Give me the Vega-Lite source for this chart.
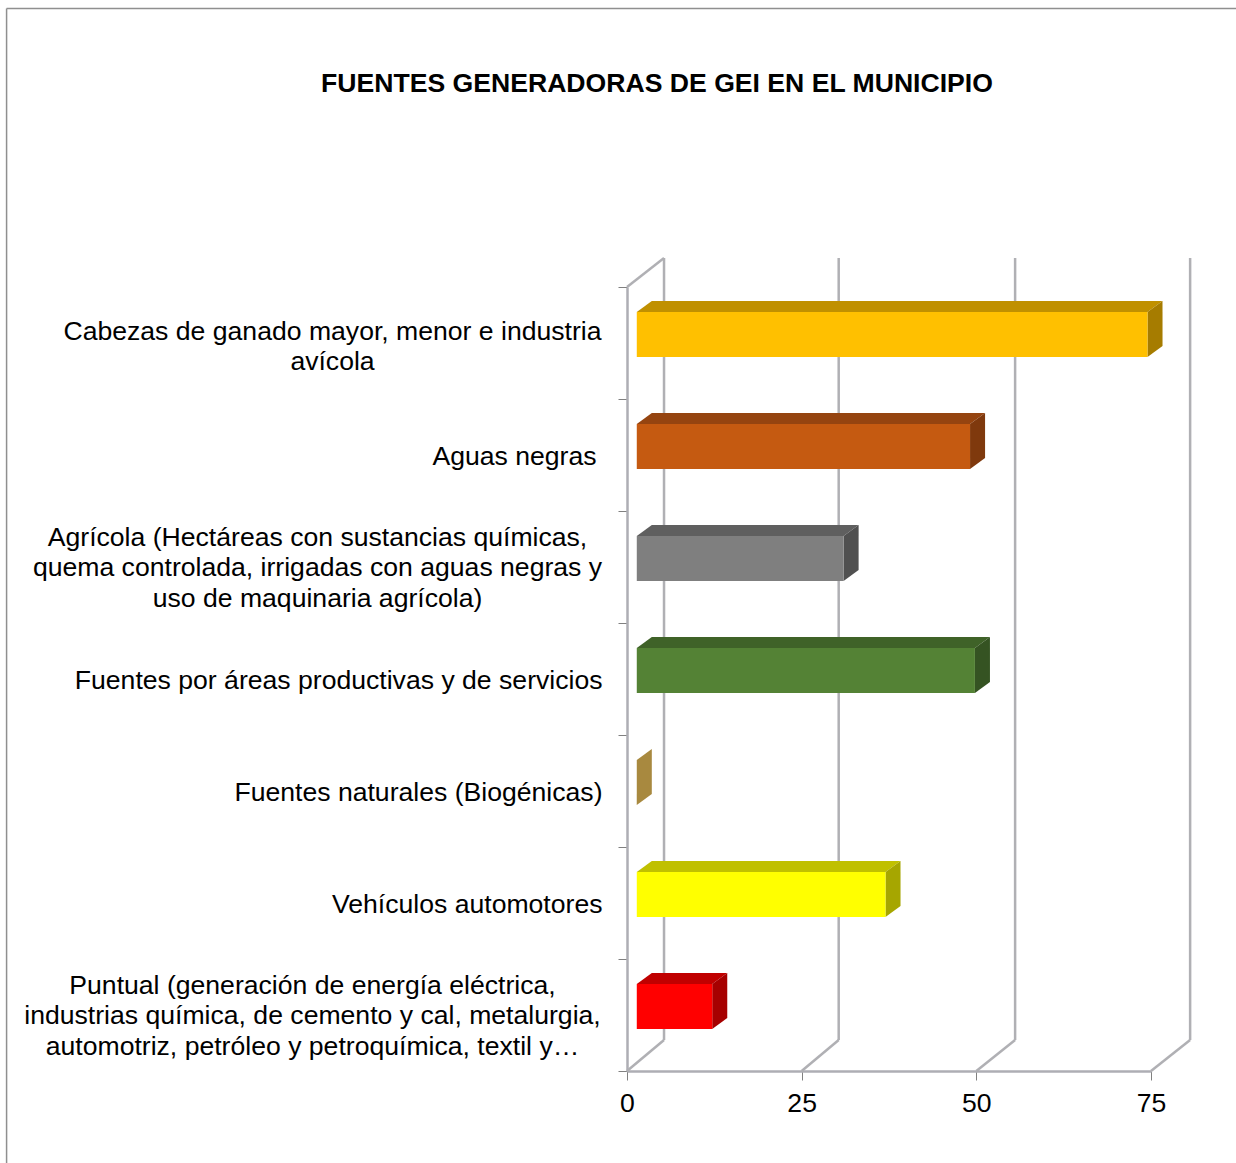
{
"$schema":"https://vega.github.io/schema/vega-lite/v6.json",
"autosize":{"type":"none"},
"padding":{"left":627,"top":287,"right":85,"bottom":92},
"width":524,"height":784,
"background":"white",
"title":{"text":"FUENTES GENERADORAS DE GEI EN EL MUNICIPIO","font":"Liberation Sans","fontSize":26.6,"fontWeight":"bold","color":"#000000","anchor":"middle","dx":-232,"offset":-90},
"config":{"view":{"stroke":null}},
"datasets":{
"bars":[
{"name":"Cabezas de ganado mayor, menor e industria|avícola","rank":6,"start":1.4,"value":74.5},
{"name":"Aguas negras","rank":5,"start":1.4,"value":49.1},
{"name":"Agrícola (Hectáreas con sustancias químicas,|quema controlada, irrigadas con aguas negras y|uso de maquinaria agrícola)","rank":4,"start":1.4,"value":31},
{"name":"Fuentes por áreas productivas y de servicios","rank":3,"start":1.4,"value":49.8},
{"name":"Fuentes naturales (Biogénicas)","rank":2,"start":1.4,"value":1.4},
{"name":"Vehículos automotores","rank":1,"start":1.4,"value":37},
{"name":"Puntual (generación de energía eléctrica,|industrias química, de cemento y cal, metalurgia,|automotriz, petróleo y petroquímica, textil y…","rank":0,"start":1.4,"value":12.2}
],
"ticks":[{"tick":0,"back":5.3},{"tick":25,"back":30.3},{"tick":50,"back":55.55},{"tick":75,"back":80.6}]
},
"resolve":{"scale":{"y":"independent","color":"independent"},"axis":{"y":"independent"}},
"layer":[
{"data":{"values":[{"x":-88.8,"x2":87.2,"y":9.487,"y2":9.487},{"x":-88.8,"x2":-88.8,"y":9.487,"y2":-0.83}]},
 "mark":{"type":"rule","color":"#8f8f8f","strokeWidth":1.5},
 "encoding":{"x":{"field":"x","type":"quantitative","scale":{"domain":[0,75],"nice":false},"title":null,
   "axis":{"values":[0,25,50,75],"labelFont":"Liberation Sans","labelFontSize":26.6,"labelColor":"#000000","labelPadding":10,"labelFlush":false,"labelOverlap":false,"tickSize":9,"tickColor":"#808080","tickWidth":1,"domainColor":"#aeaeb4","domainWidth":2.5,"grid":false}},
   "x2":{"field":"x2"},"y":{"field":"y","type":"quantitative","scale":{"domain":[0,7],"nice":false},"axis":null},"y2":{"field":"y2"}}},
{"data":{"name":"bars"},
 "mark":{"type":"bar","opacity":0},
 "encoding":{
  "y":{"field":"name","type":"nominal","sort":null,"scale":{"paddingInner":0,"paddingOuter":0},"title":null,
   "axis":{"labelExpr":"split(datum.label,'|')","labelFont":"Liberation Sans","labelFontSize":26.6,"labelColor":"#000000","labelLimit":0,"labelLineHeight":30.5,"labelOverlap":false,"labelBound":false,
    "labelAlign":{"condition":{"test":"indexof(datum.label,'|')>=0","value":"center"},"value":"right"},
    "labelPadding":{"condition":[{"test":"indexof(datum.label,'Cabezas')==0","value":286},{"test":"indexof(datum.label,'Agr')==0","value":301},{"test":"indexof(datum.label,'Puntual')==0","value":306},{"test":"indexof(datum.label,'Aguas')==0","value":22}],"value":16},
    "labelOffset":{"condition":[{"test":"indexof(datum.label,'Cabezas')==0","value":-12},{"test":"indexof(datum.label,'Agr')==0","value":-30},{"test":"indexof(datum.label,'Puntual')==0","value":-30}],"value":1},
    "tickBand":"extent","tickSize":9,"tickColor":"#808080","tickWidth":1,"domainColor":"#aeaeb4","domainWidth":2.5,"grid":false}},
  "x":{"field":"value","type":"quantitative"}
 }},
{"data":{"name":"ticks"},
 "transform":[{"calculate":"0","as":"y0"},{"calculate":"0.277","as":"y1"}],
 "mark":{"type":"rule","color":"#b0b0b4","strokeWidth":2.5},
 "encoding":{"x":{"field":"tick","type":"quantitative"},"x2":{"field":"back"},"y":{"field":"y0","type":"quantitative","scale":{"domain":[0,7],"nice":false},"axis":null},"y2":{"field":"y1"}}},
{"data":{"name":"ticks"},
 "transform":[{"calculate":"0.277","as":"y0"},{"calculate":"7.259","as":"y1"}],
 "mark":{"type":"rule","color":"#b0b0b4","strokeWidth":2.5},
 "encoding":{"x":{"field":"back","type":"quantitative"},"y":{"field":"y0","type":"quantitative","scale":{"domain":[0,7],"nice":false},"axis":null},"y2":{"field":"y1"}}},
{"data":{"values":[{"x":0,"x2":5.3,"y":7,"y2":7.259}]},
 "mark":{"type":"rule","color":"#b0b0b4","strokeWidth":2.5},
 "encoding":{"x":{"field":"x","type":"quantitative"},"x2":{"field":"x2"},"y":{"field":"y","type":"quantitative","scale":{"domain":[0,7],"nice":false},"axis":null},"y2":{"field":"y2"}}},
{"data":{"name":"bars"},
 "transform":[{"calculate":"[0,1]","as":"k"},{"flatten":["k"]},
  {"calculate":"datum.start+datum.k*2.15","as":"xa"},{"calculate":"datum.value+datum.k*2.15","as":"xb"},{"calculate":"datum.rank+0.777+datum.k*0.098","as":"yy"}],
 "mark":{"type":"area","orient":"horizontal","opacity":1},
 "encoding":{"y":{"field":"yy","type":"quantitative","scale":{"domain":[0,7],"nice":false},"axis":null},"x":{"field":"xa","type":"quantitative"},"x2":{"field":"xb"},"detail":{"field":"name"},
  "color":{"field":"rank","type":"nominal","legend":null,"scale":{"domain":[6,5,4,3,2,1,0],"range":["#c09000","#954410","#5f5f5f","#3f6228","#a8893f","#c0c000","#c00000"]}}}},
{"data":{"name":"bars"},
 "transform":[{"calculate":"[0,1]","as":"k"},{"flatten":["k"]},
  {"calculate":"datum.value+datum.k*2.15","as":"xx"},{"calculate":"datum.rank+0.777+datum.k*0.098","as":"ya"},{"calculate":"datum.rank+0.375+datum.k*0.098","as":"yb"}],
 "mark":{"type":"area","orient":"vertical","opacity":1},
 "encoding":{"x":{"field":"xx","type":"quantitative"},"y":{"field":"ya","type":"quantitative","scale":{"domain":[0,7],"nice":false},"axis":null},"y2":{"field":"yb"},"detail":{"field":"name"},
  "color":{"field":"rank","type":"nominal","legend":null,"scale":{"domain":[6,5,4,3,2,1,0],"range":["#a67c00","#7f390d","#505050","#355322","#a8893f","#a6a600","#a60000"]}}}},
{"data":{"name":"bars"},
 "transform":[{"filter":"datum.value>datum.start"},{"calculate":"datum.rank+0.375","as":"yb"},{"calculate":"datum.rank+0.777","as":"yt"}],
 "mark":{"type":"rect","opacity":1},
 "encoding":{"x":{"field":"start","type":"quantitative"},"x2":{"field":"value"},"y":{"field":"yb","type":"quantitative","scale":{"domain":[0,7],"nice":false},"axis":null},"y2":{"field":"yt"},
  "color":{"field":"rank","type":"nominal","legend":null,"scale":{"domain":[6,5,4,3,2,1,0],"range":["#ffc000","#c55a11","#7f7f7f","#548235","#bf9b4a","#ffff00","#ff0000"]}}}}
]}
